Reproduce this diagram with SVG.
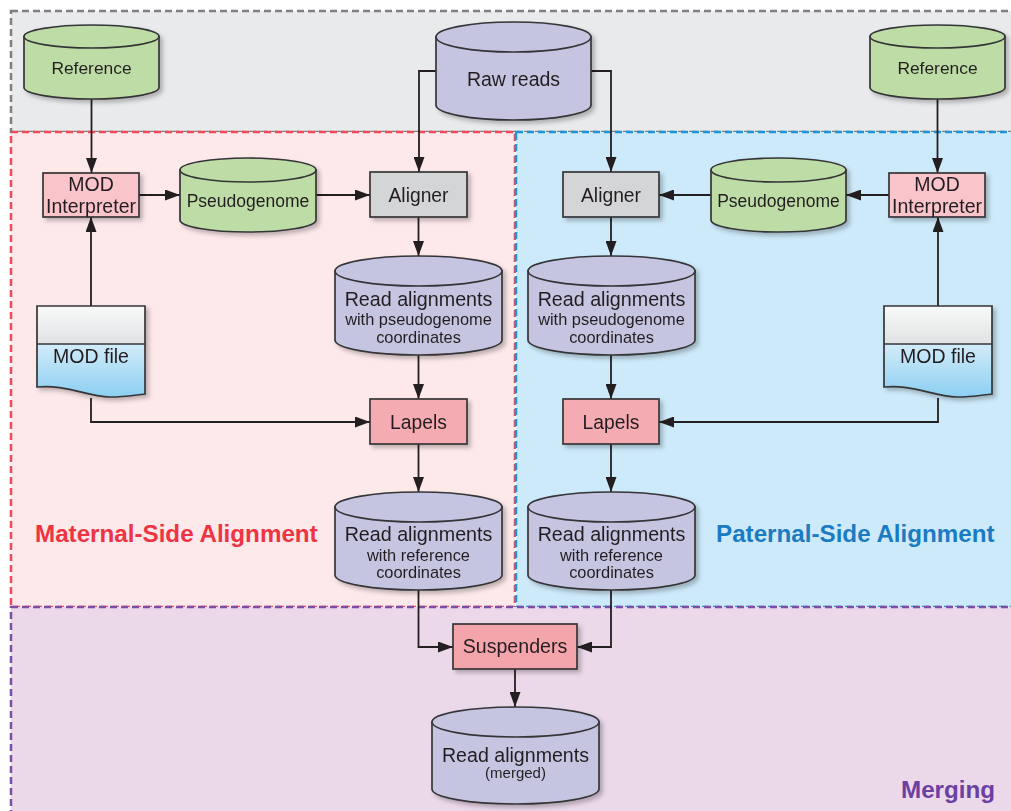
<svg xmlns="http://www.w3.org/2000/svg" width="1011" height="811" viewBox="0 0 1011 811">
<defs>
<filter id="sh" x="-10%" y="-10%" width="130%" height="130%">
<feDropShadow dx="3" dy="3" stdDeviation="2" flood-color="#000" flood-opacity="0.25"/>
</filter>
<linearGradient id="docTop" x1="0" y1="0" x2="0" y2="1">
<stop offset="0" stop-color="#f8f9f9"/><stop offset="1" stop-color="#e1e2e3"/>
</linearGradient>
<linearGradient id="docBot" x1="0" y1="0" x2="0" y2="1">
<stop offset="0" stop-color="#d2ecf9"/><stop offset="1" stop-color="#8ccff2"/>
</linearGradient>
<marker id="ah" viewBox="0 0 15 11" refX="15" refY="5.5" markerWidth="15" markerHeight="11" markerUnits="userSpaceOnUse" orient="auto">
<path d="M0,0 L15,5.5 L0,11 Z" fill="#231f20"/>
</marker>
</defs>
<style>
.reg{stroke-width:2.5;stroke-dasharray:7 4}
.shape{stroke:#363638;stroke-width:1.7}
.green{fill:#bedca5}
.purp{fill:#c5c5e1}
.gray{fill:#d4d5d7}
.pinkL{fill:#f9c4ca}
.pinkD{fill:#f5abb2}
.t{font-family:"Liberation Sans",Arial,sans-serif;fill:#231f20;text-anchor:middle}
.lbl{font-family:"Liberation Sans",Arial,sans-serif;font-weight:bold;font-size:24.2px}
.c{fill:none;stroke:#231f20;stroke-width:1.8}
</style>

<g id="regions">
<rect x="11" y="11" width="1030" height="121" fill="#e9eaec" stroke="#7f7f81" class="reg"/>
<rect x="11" y="132" width="504" height="475" fill="#fde8ea" stroke="#ef4a5a" class="reg"/>
<rect x="516" y="132" width="530" height="475" fill="#cdeafa" stroke="#1e94d4" class="reg"/>
<rect x="11" y="607" width="1030" height="230" fill="#ebd8e9" stroke="#7c4ea6" class="reg"/>
<text class="lbl" x="35" y="542" fill="#ee3442">Maternal-Side Alignment</text>
<text class="lbl" x="716" y="542" fill="#1b7bc2">Paternal-Side Alignment</text>
<text class="lbl" x="901" y="798" fill="#6a40a2">Merging</text>
</g>

<g id="connectors">
<path class="c" d="M91.5,99 V173" marker-end="url(#ah)"/>
<path class="c" d="M139,195 H180" marker-end="url(#ah)"/>
<path class="c" d="M316,195 H370" marker-end="url(#ah)"/>
<path class="c" d="M436,71 H419 V172" marker-end="url(#ah)"/>
<path class="c" d="M591,71 H611 V172" marker-end="url(#ah)"/>
<path class="c" d="M418.5,217 V256" marker-end="url(#ah)"/>
<path class="c" d="M418.5,355 V399" marker-end="url(#ah)"/>
<path class="c" d="M91,306 V217" marker-end="url(#ah)"/>
<path class="c" d="M91,398 V422 H370" marker-end="url(#ah)"/>
<path class="c" d="M418.5,444 V492" marker-end="url(#ah)"/>
<path class="c" d="M937.5,99 V173" marker-end="url(#ah)"/>
<path class="c" d="M889,195 H846" marker-end="url(#ah)"/>
<path class="c" d="M711,195 H659" marker-end="url(#ah)"/>
<path class="c" d="M611,217 V256" marker-end="url(#ah)"/>
<path class="c" d="M611,355 V399" marker-end="url(#ah)"/>
<path class="c" d="M938,306 V217" marker-end="url(#ah)"/>
<path class="c" d="M938,398 V422 H659" marker-end="url(#ah)"/>
<path class="c" d="M611,444 V492" marker-end="url(#ah)"/>
<path class="c" d="M418.5,590 V647 H453" marker-end="url(#ah)"/>
<path class="c" d="M611,590 V647 H577" marker-end="url(#ah)"/>
<path class="c" d="M515,669 V707" marker-end="url(#ah)"/>
</g>

<g id="reference-left" filter="url(#sh)">
<path class="shape green" d="M24,36.5 V87.5 A67.5,11.5 0 0 0 159,87.5 V36.5 Z"/>
<ellipse class="shape green" cx="91.5" cy="36.5" rx="67.5" ry="11.5"/>
<text class="t" x="91.5" y="74" font-size="17.4">Reference</text>
</g>

<g id="raw-reads" filter="url(#sh)">
<path class="shape purp" d="M436,37 V105 A77.5,15 0 0 0 591,105 V37 Z"/>
<ellipse class="shape purp" cx="513.5" cy="37" rx="77.5" ry="15"/>
<text class="t" x="513.5" y="86" font-size="19.5">Raw reads</text>
</g>

<g id="reference-right" filter="url(#sh)">
<path class="shape green" d="M870,36.5 V87.5 A67.5,11.5 0 0 0 1005,87.5 V36.5 Z"/>
<ellipse class="shape green" cx="937.5" cy="36.5" rx="67.5" ry="11.5"/>
<text class="t" x="937.5" y="74" font-size="17.4">Reference</text>
</g>

<g id="mod-interpreter-left" filter="url(#sh)">
<rect class="shape pinkL" x="43" y="173" width="96" height="44"/>
<text class="t" x="91" y="191" font-size="19.5">MOD</text>
<text class="t" x="91" y="213" font-size="19.5">Interpreter</text>
</g>

<g id="pseudogenome-left" filter="url(#sh)">
<path class="shape green" d="M180,170 V220 A68,12 0 0 0 316,220 V170 Z"/>
<ellipse class="shape green" cx="248" cy="170" rx="68" ry="12"/>
<text class="t" x="248" y="207" font-size="17.5">Pseudogenome</text>
</g>

<g id="aligner-left" filter="url(#sh)">
<rect class="shape gray" x="370" y="172" width="97" height="45"/>
<text class="t" x="418.5" y="202" font-size="19.3">Aligner</text>
</g>

<g id="aligner-right" filter="url(#sh)">
<rect class="shape gray" x="563" y="172" width="96" height="45"/>
<text class="t" x="611" y="202" font-size="19.3">Aligner</text>
</g>

<g id="pseudogenome-right" filter="url(#sh)">
<path class="shape green" d="M711,170 V220 A67.5,12 0 0 0 846,220 V170 Z"/>
<ellipse class="shape green" cx="778.5" cy="170" rx="67.5" ry="12"/>
<text class="t" x="778.5" y="207" font-size="17.5">Pseudogenome</text>
</g>

<g id="mod-interpreter-right" filter="url(#sh)">
<rect class="shape pinkL" x="889" y="173" width="96" height="44"/>
<text class="t" x="937" y="191" font-size="19.5">MOD</text>
<text class="t" x="937" y="213" font-size="19.5">Interpreter</text>
</g>

<g id="mod-file-left" filter="url(#sh)">
<rect x="37" y="306" width="108" height="38" fill="url(#docTop)"/>
<path d="M37,344 H145 V394 C135,395 125,397 110,397 C85,396 65,384 37,387 Z" fill="url(#docBot)"/>
<path class="shape" fill="none" d="M37,306 H145 V394 C135,395 125,397 110,397 C85,396 65,384 37,387 Z M37,344 H145"/>
<text class="t" x="91" y="363" font-size="19.5">MOD file</text>
</g>

<g id="mod-file-right" filter="url(#sh)">
<rect x="884" y="306" width="108" height="38" fill="url(#docTop)"/>
<path d="M884,344 H992 V394 C982,395 972,397 957,397 C932,396 912,384 884,387 Z" fill="url(#docBot)"/>
<path class="shape" fill="none" d="M884,306 H992 V394 C982,395 972,397 957,397 C932,396 912,384 884,387 Z M884,344 H992"/>
<text class="t" x="938" y="363" font-size="19.5">MOD file</text>
</g>

<g id="read-pseudo-left" filter="url(#sh)">
<path class="shape purp" d="M335,271 V340 A83.5,15 0 0 0 502,340 V271 Z"/>
<ellipse class="shape purp" cx="418.5" cy="271" rx="83.5" ry="15"/>
<text class="t" x="418.5" y="306" font-size="19.7">Read alignments</text>
<text class="t" x="418.5" y="325" font-size="16.4">with pseudogenome</text>
<text class="t" x="418.5" y="343" font-size="16.4">coordinates</text>
</g>

<g id="read-pseudo-right" filter="url(#sh)">
<path class="shape purp" d="M528,271 V340 A83.5,15 0 0 0 695,340 V271 Z"/>
<ellipse class="shape purp" cx="611.5" cy="271" rx="83.5" ry="15"/>
<text class="t" x="611.5" y="306" font-size="19.7">Read alignments</text>
<text class="t" x="611.5" y="325" font-size="16.4">with pseudogenome</text>
<text class="t" x="611.5" y="343" font-size="16.4">coordinates</text>
</g>

<g id="lapels-left" filter="url(#sh)">
<rect class="shape pinkD" x="370" y="399" width="97" height="45"/>
<text class="t" x="418.5" y="429" font-size="19.3">Lapels</text>
</g>

<g id="lapels-right" filter="url(#sh)">
<rect class="shape pinkD" x="563" y="399" width="96" height="45"/>
<text class="t" x="611" y="429" font-size="19.3">Lapels</text>
</g>

<g id="read-ref-left" filter="url(#sh)">
<path class="shape purp" d="M335,507 V575 A83.5,15 0 0 0 502,575 V507 Z"/>
<ellipse class="shape purp" cx="418.5" cy="507" rx="83.5" ry="15"/>
<text class="t" x="418.5" y="541" font-size="19.7">Read alignments</text>
<text class="t" x="418.5" y="561" font-size="16.4">with reference</text>
<text class="t" x="418.5" y="578" font-size="16.4">coordinates</text>
</g>

<g id="read-ref-right" filter="url(#sh)">
<path class="shape purp" d="M528,507 V575 A83.5,15 0 0 0 695,575 V507 Z"/>
<ellipse class="shape purp" cx="611.5" cy="507" rx="83.5" ry="15"/>
<text class="t" x="611.5" y="541" font-size="19.7">Read alignments</text>
<text class="t" x="611.5" y="561" font-size="16.4">with reference</text>
<text class="t" x="611.5" y="578" font-size="16.4">coordinates</text>
</g>

<g id="suspenders" filter="url(#sh)">
<rect class="shape" fill="#f4a4ab" x="453" y="624" width="124" height="45"/>
<text class="t" x="515" y="653" font-size="19.6">Suspenders</text>
</g>

<g id="read-merged" filter="url(#sh)">
<path class="shape purp" d="M432,722 V789 A83.5,15 0 0 0 599,789 V722 Z"/>
<ellipse class="shape purp" cx="515.5" cy="722" rx="83.5" ry="15"/>
<text class="t" x="515.5" y="762" font-size="19.6">Read alignments</text>
<text class="t" x="515.5" y="778" font-size="15">(merged)</text>
</g>
</svg>
